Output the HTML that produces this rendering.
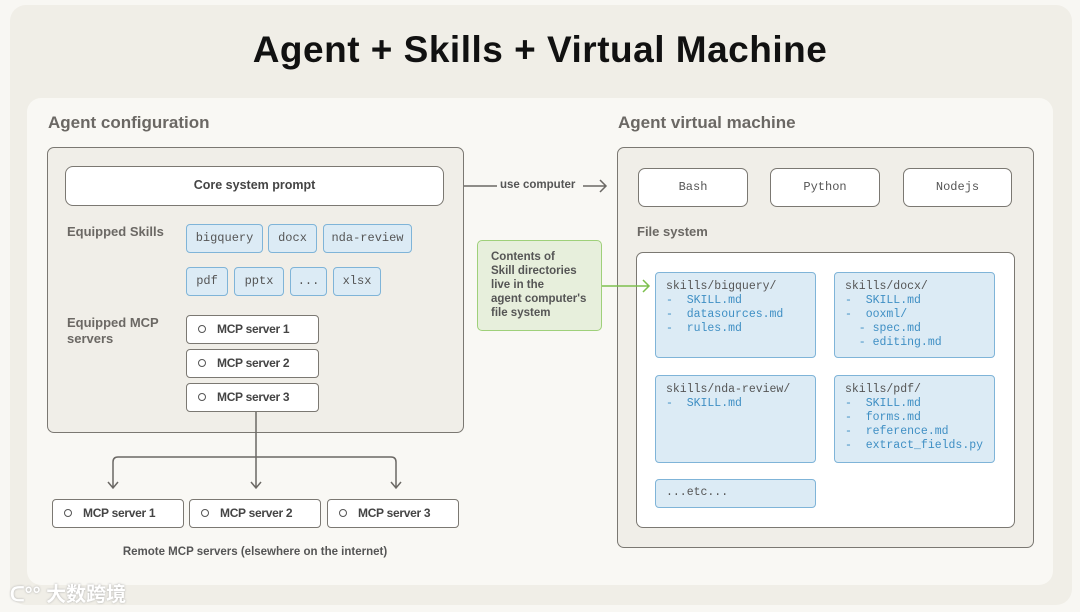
<!DOCTYPE html>
<html><head><meta charset="utf-8"><style>
*{margin:0;padding:0;box-sizing:border-box}
body{width:1080px;height:612px;background:#f8f7f3;position:relative;font-family:"Liberation Sans",sans-serif;overflow:hidden}
.a{position:absolute}
.box{position:absolute;border:1.5px solid #7b7872;border-radius:7px}
.chip{position:absolute;background:#dcebf5;border:1.5px solid #7fb4d8;border-radius:4px;font-family:"Liberation Mono",monospace;font-size:12px;color:#555;text-align:center;line-height:26px;height:29px}
.mcp{position:absolute;background:#fff;border:1.5px solid #7b7872;border-radius:4px;font-size:12px;color:#444;font-weight:bold;letter-spacing:-0.3px;height:29px;line-height:26px;padding-left:30px}
.mcp:before{content:"";position:absolute;left:11px;top:9px;width:6px;height:6px;border:1.5px solid #555;border-radius:50%}
.lbl{position:absolute;font-size:13px;font-weight:bold;color:#6b6864}
.fs{position:absolute;background:#dcebf5;border:1.5px solid #7fb4d8;border-radius:4px;font-family:"Liberation Mono",monospace;font-size:11.5px;line-height:14px;padding:7px 10px;color:#555;white-space:pre}
.fs b{font-weight:normal;color:#3f8fc4}
.rt{position:absolute;background:#fff;border:1.5px solid #7b7872;border-radius:7px;font-family:"Liberation Mono",monospace;font-size:12px;color:#555;text-align:center;line-height:36px;height:39px}
</style></head><body>
<div class="a" style="left:10px;top:5px;width:1062px;height:600px;background:#f0eee7;border-radius:16px"></div>
<div class="a" style="left:0;top:29px;width:1080px;text-align:center;font-size:37px;font-weight:bold;color:#111;letter-spacing:0.5px">Agent + Skills + Virtual Machine</div>
<div class="a" style="left:27px;top:98px;width:1026px;height:487px;background:#f9f8f4;border-radius:14px"></div>
<div class="a" style="left:48px;top:113px;font-size:17px;font-weight:bold;color:#6b6864">Agent configuration</div>
<div class="a" style="left:618px;top:113px;font-size:17px;font-weight:bold;color:#6b6864">Agent virtual machine</div>

<div class="box" style="left:47px;top:147px;width:417px;height:286px;background:#f0eee8"></div>
<div class="box" style="left:65px;top:166px;width:379px;height:40px;background:#fff;border-radius:8px;text-align:center;line-height:37px;font-size:12.5px;font-weight:bold;color:#444">Core system prompt</div>
<div class="lbl" style="left:67px;top:224px">Equipped Skills</div>
<div class="chip" style="left:186px;top:224px;width:77px">bigquery</div>
<div class="chip" style="left:268px;top:224px;width:49px">docx</div>
<div class="chip" style="left:323px;top:224px;width:89px">nda-review</div>
<div class="chip" style="left:186px;top:267px;width:42px">pdf</div>
<div class="chip" style="left:234px;top:267px;width:50px">pptx</div>
<div class="chip" style="left:290px;top:267px;width:37px">...</div>
<div class="chip" style="left:333px;top:267px;width:48px">xlsx</div>
<div class="lbl" style="left:67px;top:315px;line-height:16px">Equipped MCP<br>servers</div>
<div class="mcp" style="left:186px;top:315px;width:133px">MCP server 1</div>
<div class="mcp" style="left:186px;top:349px;width:133px">MCP server 2</div>
<div class="mcp" style="left:186px;top:383px;width:133px">MCP server 3</div>

<svg class="a" style="left:0;top:0" width="1080" height="612">
<g fill="none" stroke="#6b6864" stroke-width="1.5">
<path d="M256 412V488M113 488V462q0-5 5-5h273q5 0 5 5v26M251 482l5 6 5-6M108 482l5 6 5-6M391 482l5 6 5-6"/>
<path d="M464 186H497M583 186H606M600 180l6 6-6 6"/>
</g>
</svg>
<div class="a" style="left:500px;top:179px;font-size:11.5px;font-weight:bold;color:#555">use computer</div>

<div class="mcp" style="left:52px;top:499px;width:132px">MCP server 1</div>
<div class="mcp" style="left:189px;top:499px;width:132px">MCP server 2</div>
<div class="mcp" style="left:327px;top:499px;width:132px">MCP server 3</div>
<div class="a" style="left:0;top:546px;width:510px;text-align:center;font-size:11.5px;font-weight:bold;color:#555">Remote MCP servers (elsewhere on the internet)</div>

<div class="a" style="left:477px;top:240px;width:125px;height:91px;background:#e7efdc;border:1.5px solid #9fd07a;border-radius:5px;padding:9px 0 0 13px;font-size:11.5px;font-weight:bold;color:#555;line-height:14px">Contents of<br>Skill directories<br>live in the<br>agent computer's<br>file system</div>

<div class="box" style="left:617px;top:147px;width:417px;height:401px;background:#f0eee8"></div>
<div class="rt" style="left:638px;top:168px;width:110px">Bash</div>
<div class="rt" style="left:770px;top:168px;width:110px">Python</div>
<div class="rt" style="left:903px;top:168px;width:109px">Nodejs</div>
<div class="lbl" style="left:637px;top:224px">File system</div>
<div class="box" style="left:636px;top:252px;width:379px;height:276px;background:#fff"></div>
<div class="fs" style="left:655px;top:272px;width:161px;height:86px">skills/bigquery/
<b>-  SKILL.md
-  datasources.md
-  rules.md</b></div>
<div class="fs" style="left:834px;top:272px;width:161px;height:86px">skills/docx/
<b>-  SKILL.md
-  ooxml/
  - spec.md
  - editing.md</b></div>
<div class="fs" style="left:655px;top:375px;width:161px;height:88px">skills/nda-review/
<b>-  SKILL.md</b></div>
<div class="fs" style="left:834px;top:375px;width:161px;height:88px">skills/pdf/
<b>-  SKILL.md
-  forms.md
-  reference.md
-  extract_fields.py</b></div>
<div class="fs" style="left:655px;top:479px;width:161px;height:29px;line-height:12px">...etc...</div>

<svg class="a" style="left:0;top:0" width="1080" height="612">
<g fill="none" stroke="#7dbf4e" stroke-width="1.5"><path d="M602 286H649M643 280l6 6-6 6"/></g>
</svg>

<div class="a" style="left:10px;top:578px;font-family:'Liberation Sans','Noto Sans CJK SC',sans-serif;font-size:20px;color:#fff;font-weight:bold;text-shadow:0 0 2px #aaa">ᑕ°° 大数跨境</div>
</body></html>
